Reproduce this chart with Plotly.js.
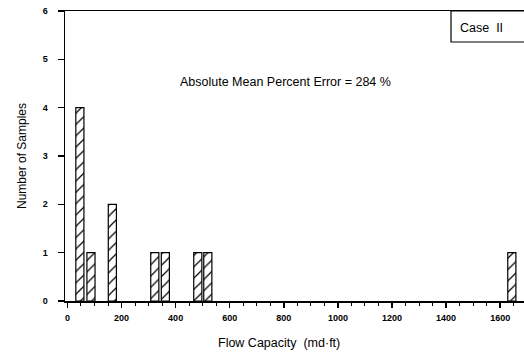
<!DOCTYPE html>
<html>
<head>
<meta charset="utf-8">
<script src="https://cdn.plot.ly/plotly-3.0.1.min.js"></script>
<style>html,body{margin:0;padding:0;background:#fff;}#chart{width:524px;height:357px;}</style>
</head>
<body>
<div id="chart"></div>
<script>
const flowCapacity = [46, 87, 166, 323, 362, 482, 519, 1643];
const sampleCounts = [4, 1, 2, 1, 1, 1, 1, 1];
const xTickVals = [0, 200, 400, 600, 800, 1000, 1200, 1400, 1600];
const yTickVals = [0, 1, 2, 3, 4, 5, 6];
const errorText = "Absolute Mean Percent Error = 284 %";
const caseText = "Case  II";
const xTitle = "Flow Capacity  (md·ft)";
const yTitle = "Number of Samples";

const trace = {
  type: 'bar',
  x: flowCapacity,
  y: sampleCounts,
  width: 30,
  marker: {
    color: 'white',
    line: {color: 'black', width: 1.2},
    pattern: {shape: '/', size: 8, solidity: 0.15, fgcolor: 'black', bgcolor: 'white'}
  },
  hoverinfo: 'skip'
};

const layout = {
  width: 524, height: 357,
  margin: {l: 65, r: 0, t: 11, b: 56},
  paper_bgcolor: 'white', plot_bgcolor: 'white',
  showlegend: false,
  font: {family: 'Liberation Sans, Arial, sans-serif', color: 'black'},
  xaxis: {
    range: [-9, 1688],
    tickvals: xTickVals,
    ticks: 'outside', ticklen: 5, tickwidth: 1.5, tickcolor: 'black',
    minor: {dtick: 50, ticks: 'outside', ticklen: 3, tickwidth: 1, tickcolor: 'black'},
    showline: true, linecolor: 'black', linewidth: 1.5, mirror: true,
    showgrid: false, zeroline: false,
    tickfont: {size: 9, weight: 'bold'},
    ticklabelstandoff: 3
  },
  yaxis: {
    range: [0, 6],
    tickvals: yTickVals,
    ticks: 'outside', ticklen: 6, tickwidth: 1.5, tickcolor: 'black',
    showline: true, linecolor: 'black', linewidth: 1.5,
    showgrid: false, zeroline: false,
    tickfont: {size: 9, weight: 'bold'},
    ticklabelstandoff: 8,
    title: {text: yTitle, font: {size: 12}, standoff: 13}
  },
  shapes: [{
    type: 'rect', xref: 'paper', yref: 'paper',
    x0: (451-65)/459, x1: 1.01, y0: 1 - (42-11)/290, y1: 1,
    line: {color: 'black', width: 1.2}, fillcolor: 'white'
  }],
  annotations: [
    {text: errorText, xref: 'paper', yref: 'paper', x: (285-65)/459, y: 1 - (82-11)/290,
     showarrow: false, font: {size: 12.5}, xanchor: 'center', yanchor: 'middle'},
    {text: caseText, xref: 'paper', yref: 'paper', x: (458-65)/459, y: 1 - (28-11)/290,
     showarrow: false, font: {size: 12.5}, xanchor: 'left', yanchor: 'middle'},
    {text: xTitle, xref: 'paper', yref: 'paper', x: (279-65)/459, y: 1 - (343-11)/290,
     showarrow: false, font: {size: 12.5}, xanchor: 'center', yanchor: 'middle'}
  ]
};

Plotly.newPlot('chart', [trace], layout, {staticPlot: true, displayModeBar: false});
</script>
</body>
</html>
